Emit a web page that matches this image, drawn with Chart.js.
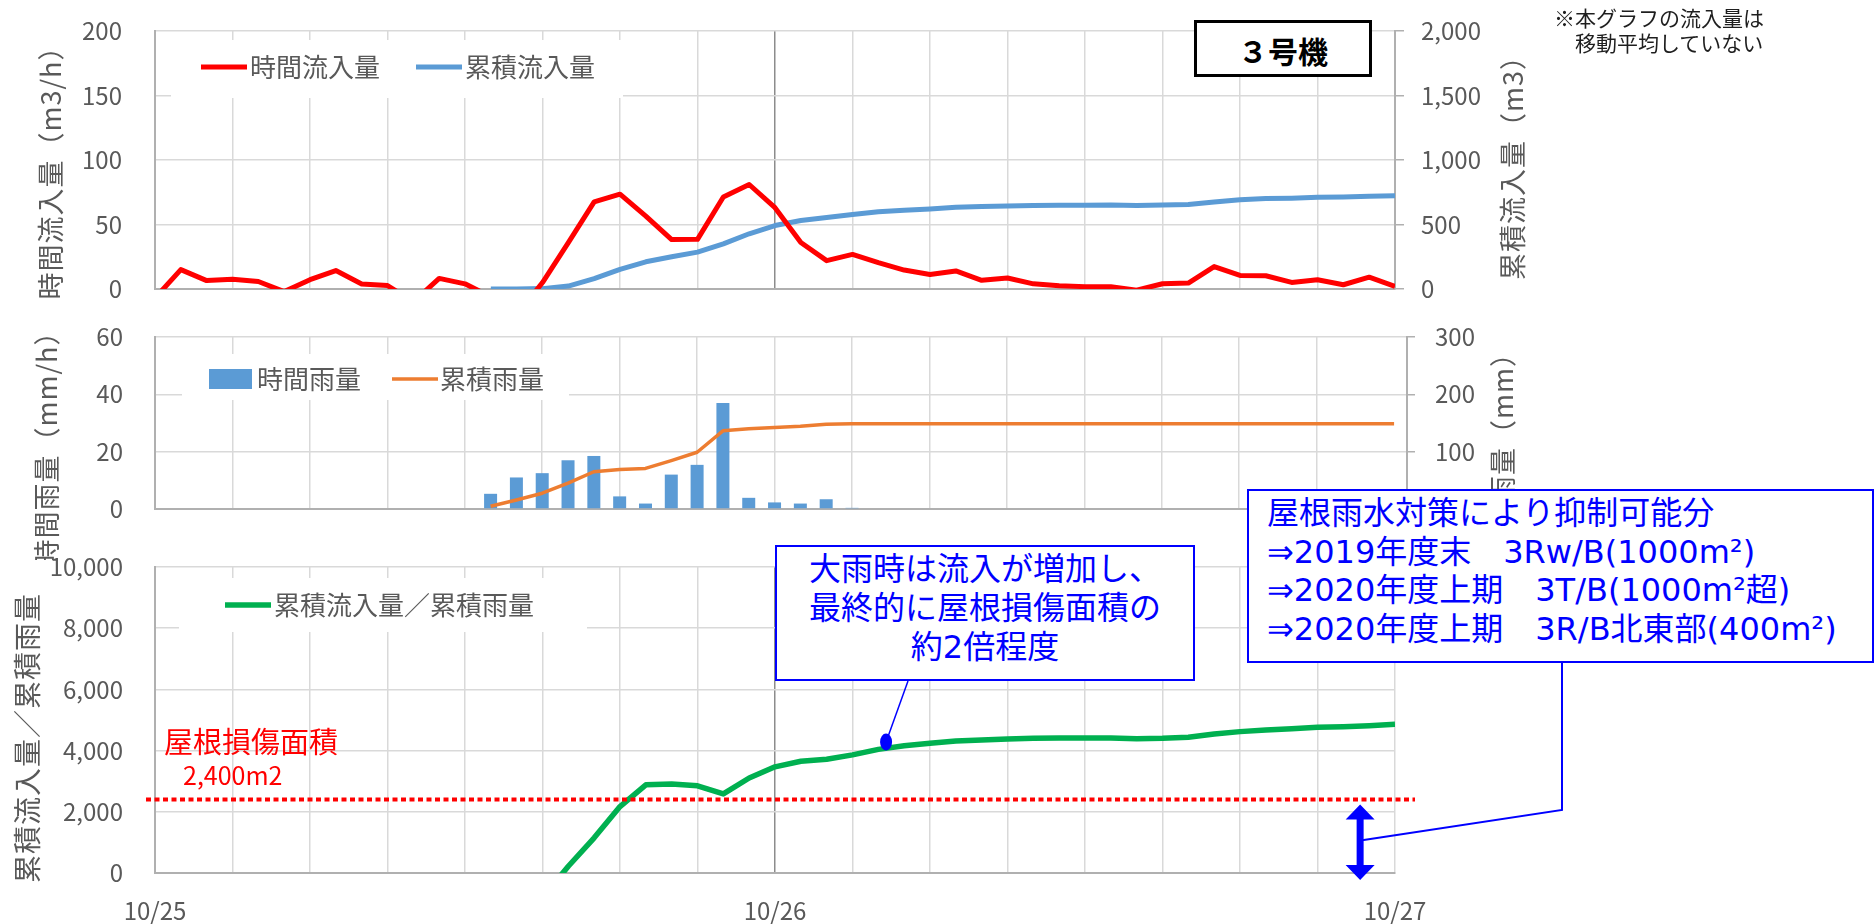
<!DOCTYPE html>
<html lang="ja">
<head>
<meta charset="utf-8">
<title>3号機 流入量と雨量</title>
<script src="https://cdn.jsdelivr.net/npm/chart.js@4.4.1/dist/chart.umd.min.js"></script>
<style>
  html, body { margin: 0; padding: 0; background: #ffffff; }
  #page { position: relative; width: 1876px; height: 924px; overflow: hidden; font-family: "Noto Sans CJK JP", sans-serif; }
  #page canvas { position: absolute; left: 0; }
  #unitLabel { position: absolute; box-sizing: border-box; left: 1194px; top: 20px; width: 178px; height: 57px;
    border: 3px solid #000; background: #fff; color: #000; font-weight: bold; font-size: 30px;
    line-height: 51px; padding-top: 2px; text-align: center; }
  #note { position: absolute; left: 1554px; top: 5px; font-size: 21px; line-height: 25px; color: #1e1e1e; white-space: pre; }
  .callout { position: absolute; box-sizing: border-box; border: 2px solid #0000ff; background: #fff; color: #0000ff;
    font-family: "DejaVu Sans", "Noto Sans CJK JP", sans-serif; font-size: 32px; white-space: pre; }
  #calloutRatio { text-align: center; line-height: 39px; padding-top: 3px; }
  #calloutMeasures { line-height: 38.7px; padding: 3px 0 0 18px; }
</style>
</head>
<body>
<div id="page">
  <canvas id="inflowChart" width="1876" height="300" style="top:0"></canvas>
  <canvas id="rainChart" width="1876" height="260" style="top:300px"></canvas>
  <canvas id="ratioChart" width="1876" height="399" style="top:525px"></canvas>
  <div id="unitLabel">３号機</div>
  <div id="note">※本グラフの流入量は
　移動平均していない</div>
  <div id="calloutRatio" class="callout">大雨時は流入が増加し、
最終的に屋根損傷面積の
約2倍程度</div>
  <div id="calloutMeasures" class="callout">屋根雨水対策により抑制可能分
⇒2019年度末　3Rw/B(1000m²)
⇒2020年度上期　3T/B(1000m²超)
⇒2020年度上期　3R/B北東部(400m²)</div>
</div>
<script>
// hourly samples, 10/25 0:00 .. 10/27 0:00
const hours = [0, 1, 2, 3, 4, 5, 6, 7, 8, 9, 10, 11, 12, 13, 14, 15, 16, 17, 18, 19, 20, 21, 22, 23, 24,
  25, 26, 27, 28, 29, 30, 31, 32, 33, 34, 35, 36, 37, 38, 39, 40, 41, 42, 43, 44, 45, 46, 47, 48];
const dateTickLabels = ['10/25', '10/26', '10/27'];
const hoursPerDay = 24;

// 時間流入量 (m3/h)
const hourlyInflow = [-7, 15, 6.5, 7.5, 5.8, -2, 7.2, 14.3, 3.9, 2.7,
  -10, 8.2, 4, -6, -20, 5, 36, 67.5, 73.5, 56.5,
  38.3, 38.5, 71.3, 81, 63, 36, 22, 26.8, 20.4, 14.7,
  11.3, 14, 6.7, 8.5, 4, 2.6, 1.8, 1.8, -1, 4.1,
  4.6, 17.4, 10.5, 10.3, 5.1, 7.2, 3.3, 9.2, 2.1];

// 累積流入量 (m3)
const cumulativeInflow = [null, null, null, null, null, null, null, null, null, null, null, null, null,
  0, 0, 3, 23, 80, 152, 211,
  250, 286, 350, 428, 492, 531, 554, 577, 598, 611,
  621, 634, 639, 644, 647, 649, 649, 652, 647, 652,
  655, 675, 691, 701, 704, 711, 714, 719, 722];

// 時間雨量 (mm/h)
const hourlyRain = [null, null, null, null, null, null, null, null, null, null, null, null, null,
  5.3, 11, 12.5, 17, 18.5, 4.4, 1.9,
  12, 15.4, 37, 3.9, 2.3, 1.9, 3.4, 0.4, 0, 0,
  0, 0, 0, 0, 0, 0, 0, 0, 0, 0,
  0, 0, 0, 0, 0, 0, 0, 0, 0];

// 累積雨量 (mm)
const cumulativeRain = [null, null, null, null, null, null, null, null, null, null, null, null, null,
  4.8, 15.8, 27.5, 45, 65, 69, 70.8,
  84.5, 99, 136.3, 139.8, 142, 144.4, 148, 148.5, 148.5, 148.5,
  148.5, 148.5, 148.5, 148.5, 148.5, 148.5, 148.5, 148.5, 148.5, 148.5,
  148.5, 148.5, 148.5, 148.5, 148.5, 148.5, 148.5, 148.5, 148.5];

// 累積流入量／累積雨量
const inflowPerRain = [null, null, null, null, null, null, null, null, null, null, null, null, null, null, null,
  -800, 220, 1150, 2170, 2880,
  2905, 2850, 2585, 3105, 3470, 3650, 3715, 3860, 4040, 4160,
  4240, 4315, 4345, 4380, 4400, 4410, 4410, 4410, 4390, 4400,
  4435, 4540, 4620, 4675, 4715, 4760, 4780, 4815, 4860];

// 屋根損傷面積 (m2)
const roofDamageArea = 2400;
// anchor of the "大雨時…" callout on the ratio line, and the arrow position (hours)
const calloutAnchor = { x: 28.3, y: 4280 };
const arrowHour = 46.65;

// callout boxes (page pixels)
const calloutBoxes = {
  calloutRatio: { left: 775, top: 545, width: 420, height: 136 },
  calloutMeasures: { left: 1247, top: 489, width: 627, height: 174 }
};
Object.entries(calloutBoxes).forEach(([id, b]) => {
  const el = document.getElementById(id);
  el.style.left = b.left + 'px';
  el.style.top = b.top + 'px';
  el.style.width = b.width + 'px';
  el.style.height = b.height + 'px';
});

const GRID = '#D9D9D9';
const AXIS = '#B0B0B0';
const DAY_LINE = '#8C8C8C';
const TEXT = '#595959';
const JP_FONT = '"Noto Sans CJK JP", sans-serif';
const tickFont = { family: JP_FONT, size: 24 };
const RATIO_TOP = 525;

Chart.defaults.font.family = JP_FONT;
Chart.defaults.animation = false;
Chart.defaults.elements.point.radius = 0;
Chart.defaults.elements.line.tension = 0;
Chart.defaults.elements.line.borderJoinStyle = 'round';

const toPoints = values => values.map((v, i) => ({ x: hours[i], y: v }));

// rotated axis titles (read bottom to top on both sides)
const axisTitles = {
  id: 'axisTitles',
  afterDraw(chart, args, opts) {
    const ctx = chart.ctx;
    (opts.items || []).forEach(t => {
      ctx.save();
      ctx.translate(t.x, t.y);
      ctx.rotate(-Math.PI / 2);
      ctx.font = (t.size || 27) + 'px ' + JP_FONT;
      ctx.letterSpacing = '1px';
      ctx.fillStyle = TEXT;
      ctx.textAlign = 'center';
      ctx.textBaseline = 'middle';
      ctx.fillText(t.text, 0, 0);
      ctx.restore();
    });
  }
};

// legend drawn inside the plot area on a white patch
const insideLegend = {
  id: 'insideLegend',
  beforeDatasetsDraw(chart, args, opts) {
    if (!opts.items) return;
    const ctx = chart.ctx;
    const b = opts.box;
    ctx.save();
    ctx.fillStyle = '#ffffff';
    ctx.fillRect(b.x, b.y, b.w, b.h);
    ctx.font = '26px ' + JP_FONT;
    ctx.textBaseline = 'middle';
    opts.items.forEach(item => {
      const ds = chart.data.datasets[item.dataset];
      if (ds.type === 'bar') {
        ctx.fillStyle = ds.backgroundColor;
        ctx.fillRect(item.x, opts.y - 10, 43, 20);
      } else {
        ctx.strokeStyle = ds.borderColor;
        ctx.lineWidth = ds.borderWidth;
        ctx.lineCap = 'butt';
        ctx.beginPath();
        ctx.moveTo(item.x, opts.y);
        ctx.lineTo(item.x + 46, opts.y);
        ctx.stroke();
      }
      ctx.fillStyle = TEXT;
      ctx.fillText(ds.label, item.textX, opts.y);
    });
    ctx.restore();
  }
};

// roof damage reference line, labels, callout connectors and the arrow
const roofAnnotations = {
  id: 'roofAnnotations',
  afterDatasetsDraw(chart, args, opts) {
    if (!opts.enabled) return;
    const { ctx, chartArea, scales: { x, y } } = chart;
    const yRef = y.getPixelForValue(roofDamageArea);
    ctx.save();

    ctx.strokeStyle = '#FF0000';
    ctx.lineWidth = 4;
    ctx.setLineDash([5, 3.5]);
    ctx.beginPath();
    ctx.moveTo(chartArea.left - 9, yRef);
    ctx.lineTo(chartArea.right + 20, yRef);
    ctx.stroke();
    ctx.setLineDash([]);

    ctx.fillStyle = '#FF0000';
    ctx.textBaseline = 'middle';
    ctx.font = '29px ' + JP_FONT;
    ctx.fillText('屋根損傷面積', 164, 217);
    ctx.font = '25px ' + JP_FONT;
    ctx.fillText(roofDamageArea.toLocaleString('en-US') + 'm2', 183, 250);

    // callout anchor and its leader
    const ax = x.getPixelForValue(calloutAnchor.x);
    const ay = y.getPixelForValue(calloutAnchor.y);
    const rb = calloutBoxes.calloutRatio;
    ctx.strokeStyle = '#0000FF';
    ctx.lineWidth = 1.5;
    ctx.beginPath();
    ctx.moveTo(ax, ay);
    ctx.lineTo(908, rb.top + rb.height - RATIO_TOP);
    ctx.stroke();
    ctx.fillStyle = '#0000FF';
    ctx.beginPath();
    ctx.ellipse(ax, ay, 6, 8.5, 0, 0, Math.PI * 2);
    ctx.fill();

    // double arrow from the reference line down to the axis
    const arrowX = x.getPixelForValue(arrowHour);
    const top = yRef + 5;
    const bottom = chartArea.bottom + 7;
    const head = 15, half = 14.5;
    ctx.lineWidth = 7;
    ctx.beginPath();
    ctx.moveTo(arrowX, top + head - 1);
    ctx.lineTo(arrowX, bottom - head + 1);
    ctx.stroke();
    ctx.beginPath();
    ctx.moveTo(arrowX, top);
    ctx.lineTo(arrowX + half, top + head);
    ctx.lineTo(arrowX - half, top + head);
    ctx.closePath();
    ctx.moveTo(arrowX, bottom);
    ctx.lineTo(arrowX + half, bottom - head);
    ctx.lineTo(arrowX - half, bottom - head);
    ctx.closePath();
    ctx.fill();

    // leader from the measures box to the arrow
    const mb = calloutBoxes.calloutMeasures;
    ctx.lineWidth = 2;
    ctx.beginPath();
    ctx.moveTo(1562, mb.top + mb.height - RATIO_TOP);
    ctx.lineTo(1562, 285);
    ctx.lineTo(arrowX - 3, 316);
    ctx.stroke();

    ctx.restore();
  }
};

Chart.register(axisTitles, insideLegend, roofAnnotations);

function hourAxis(max, o) {
  return {
    type: 'linear', position: 'bottom', min: 0, max: max, offset: false,
    ticks: {
      display: o.labels, stepSize: 3, autoSkip: false, maxRotation: 0, padding: 23,
      color: TEXT, font: tickFont,
      callback: v => (v % hoursPerDay === 0 ? dateTickLabels[v / hoursPerDay] : '')
    },
    grid: {
      offset: false, drawTicks: false, lineWidth: 1.5,
      color: c => (o.markDay && c.tick && c.tick.value === hoursPerDay ? DAY_LINE : GRID)
    },
    border: { color: AXIS, width: 2 },
    afterFit: s => {
      s.height = o.height;
      s.paddingLeft = 0;
      s.paddingRight = 0;
    }
  };
}

function valueAxis(position, max, step, o) {
  const left = position === 'left';
  return {
    type: 'linear', position: position, min: 0, max: max,
    ticks: { stepSize: step, padding: o.padding, color: TEXT, font: tickFont },
    grid: left
      ? { color: GRID, lineWidth: 1.5, drawTicks: false }
      : { drawOnChartArea: false, drawTicks: true, tickLength: o.tickLength, color: AXIS, tickColor: AXIS, lineWidth: 1.5 },
    border: { color: AXIS, width: 2 },
    afterFit: s => {
      // keep the plot area fixed; end labels may hang over it
      s.width = o.width;
      s.paddingTop = 0;
      s.paddingBottom = 0;
    }
  };
}

function baseOptions(padding, scales, plugins) {
  return {
    responsive: false,
    maintainAspectRatio: false,
    devicePixelRatio: 1,
    locale: 'en-US',
    layout: { padding: padding },
    scales: scales,
    plugins: Object.assign({ legend: { display: false }, tooltip: { enabled: false } }, plugins)
  };
}

// 時間流入量 / 累積流入量
new Chart(document.getElementById('inflowChart'), {
  type: 'line',
  data: {
    datasets: [
      { label: '時間流入量', data: toPoints(hourlyInflow), borderColor: '#FF0000', borderWidth: 5, yAxisID: 'y' },
      { label: '累積流入量', data: toPoints(cumulativeInflow), borderColor: '#5B9BD5', borderWidth: 5, yAxisID: 'y2' }
    ]
  },
  options: baseOptions(
    { top: 31, right: 361, bottom: 0, left: 0 },
    {
      x: hourAxis(48, { labels: false, markDay: true, height: 11 }),
      y: valueAxis('left', 200, 50, { padding: 33, width: 155 }),
      y2: valueAxis('right', 2000, 500, { padding: 17, tickLength: 9, width: 120 })
    },
    {
      axisTitles: { items: [
        { text: '時間流入量（m3/h）', x: 51, y: 166 },
        { text: '累積流入量（m3）', x: 1513, y: 161 }
      ] },
      insideLegend: {
        box: { x: 171, y: 40, w: 452, h: 58 }, y: 67,
        items: [{ dataset: 0, x: 201, textX: 250 }, { dataset: 1, x: 416, textX: 465 }]
      }
    }
  )
});

// 時間雨量 / 累積雨量
new Chart(document.getElementById('rainChart'), {
  type: 'line',
  data: {
    datasets: [
      { type: 'bar', label: '時間雨量', data: toPoints(hourlyRain), backgroundColor: '#5B9BD5',
        barThickness: 13, inflateAmount: 0, yAxisID: 'y', order: 2 },
      { type: 'line', label: '累積雨量', data: toPoints(cumulativeRain), borderColor: '#ED7D31',
        borderWidth: 3.5, yAxisID: 'y2', order: 1 }
    ]
  },
  options: baseOptions(
    { top: 37, right: 359, bottom: 0, left: 0 },
    {
      x: hourAxis(48.5, { labels: false, markDay: false, height: 51 }),
      y: valueAxis('left', 60, 20, { padding: 32, width: 155 }),
      y2: valueAxis('right', 300, 100, { padding: 20, tickLength: 8, width: 110 })
    },
    {
      axisTitles: { items: [
        { text: '時間雨量（mm/h）', x: 47, y: 142 },
        { text: '累積雨量（mm）', x: 1503, y: 149 }
      ] },
      insideLegend: {
        box: { x: 182, y: 54, w: 387, h: 46 }, y: 79,
        items: [{ dataset: 0, x: 209, textX: 257 }, { dataset: 1, x: 392, textX: 440 }]
      }
    }
  )
});

// 累積流入量／累積雨量
new Chart(document.getElementById('ratioChart'), {
  type: 'line',
  data: {
    datasets: [
      { label: '累積流入量／累積雨量', data: toPoints(inflowPerRain), borderColor: '#00B050', borderWidth: 5.5, yAxisID: 'y' }
    ]
  },
  options: baseOptions(
    { top: 42, right: 481, bottom: 0, left: 0 },
    {
      x: hourAxis(48, { labels: true, markDay: true, height: 51 }),
      y: valueAxis('left', 10000, 2000, { padding: 32, width: 155 })
    },
    {
      axisTitles: { items: [{ text: '累積流入量／累積雨量', x: 27, y: 213, size: 28 }] },
      insideLegend: {
        box: { x: 179, y: 53, w: 408, h: 54 }, y: 80,
        items: [{ dataset: 0, x: 225, textX: 274 }]
      },
      roofAnnotations: { enabled: true }
    }
  )
});
</script>
</body>
</html>
